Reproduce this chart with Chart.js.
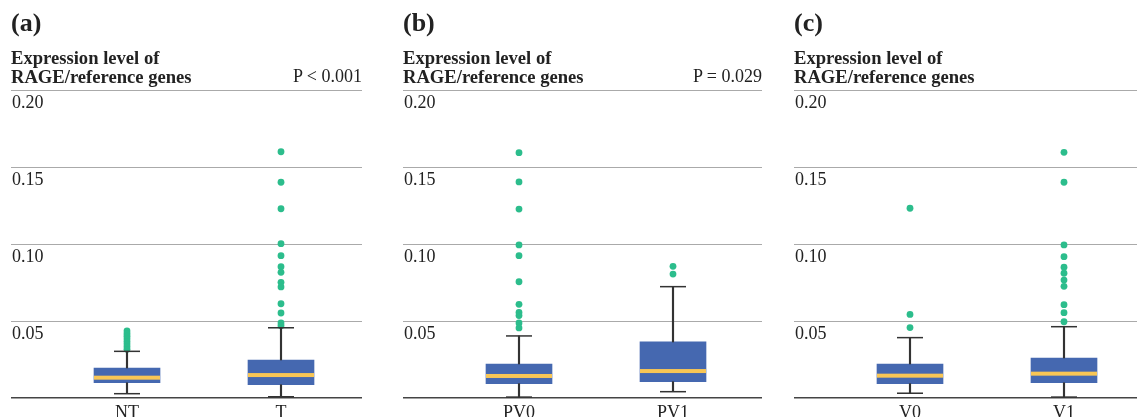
<!DOCTYPE html>
<html>
<head>
<meta charset="utf-8">
<script src="https://cdn.jsdelivr.net/npm/chart.js@4.4.0/dist/chart.umd.min.js"></script>
<style>
  body { margin: 0; width: 1137px; height: 417px; overflow: hidden; background: #fff; position: relative;
         font-family: "Liberation Serif", "Times New Roman", serif; color: #222; }
  .panel { position: absolute; top: 0; height: 417px; }
  .panel canvas { position: absolute; left: 0; top: 0; }
  .tag { position: absolute; left: 11px; top: 10px; font-size: 26px; line-height: 26px; font-weight: bold; }
  .ylab { position: absolute; left: 11px; top: 48px; font-size: 18.6px; line-height: 19px; font-weight: bold; white-space: nowrap; }
  .pval { position: absolute; right: 0; top: 67px; font-size: 18px; line-height: 19px; white-space: nowrap; }
</style>
</head>
<body>
<div class="panel" style="left:0;width:362px">
  <canvas id="chartA" width="362" height="417"></canvas>
  <div class="tag">(a)</div>
  <div class="ylab">Expression level of<br>RAGE/reference genes</div>
  <div class="pval">P &lt; 0.001</div>
</div>
<div class="panel" style="left:392px;width:370px">
  <canvas id="chartB" width="370" height="417"></canvas>
  <div class="tag">(b)</div>
  <div class="ylab">Expression level of<br>RAGE/reference genes</div>
  <div class="pval">P = 0.029</div>
</div>
<div class="panel" style="left:783px;width:354px">
  <canvas id="chartC" width="354" height="417"></canvas>
  <div class="tag">(c)</div>
  <div class="ylab">Expression level of<br>RAGE/reference genes</div>
</div>
<script>
// y axis ticks
const yTicks = [0, 0.05, 0.10, 0.15, 0.20];

// (a) NT vs T
const catsA = ["NT", "T"];
const lowA = [0.0028, 0.0008];
const q1A = [0.0099, 0.0086];
const medA = [0.0132, 0.0149];
const q3A = [0.0195, 0.0247];
const highA = [0.0303, 0.0456];
const outNT = [0.0435, 0.0418, 0.0401, 0.0384, 0.0367, 0.0350, 0.0333, 0.0316];
const outT = [0.1599, 0.1401, 0.1229, 0.1002, 0.0924, 0.0853, 0.0816, 0.0751, 0.0721, 0.0612, 0.0552, 0.0487, 0.0469];

// (b) PV0 vs PV1
const catsB = ["PV0", "PV1"];
const lowB = [0.0006, 0.0041];
const q1B = [0.0093, 0.0106];
const medB = [0.0143, 0.0175];
const q3B = [0.0221, 0.0364];
const highB = [0.0403, 0.0723];
const outPV0 = [0.1593, 0.1403, 0.1227, 0.0994, 0.0924, 0.0755, 0.0608, 0.0556, 0.0535, 0.0487, 0.0455];
const outPV1 = [0.0855, 0.0805];

// (c) V0 vs V1
const catsC = ["V0", "V1"];
const lowC = [0.0031, 0.0006];
const q1C = [0.0093, 0.0099];
const medC = [0.0145, 0.0158];
const q3C = [0.0221, 0.0260];
const highC = [0.0392, 0.0463];
const outV0 = [0.1232, 0.0543, 0.0457];
const outV1 = [0.1595, 0.1401, 0.0994, 0.0918, 0.0849, 0.0810, 0.0766, 0.0725, 0.0606, 0.0554, 0.0495];

const BLUE = "#4568b0";
const YELLOW = "#f8c655";
const GREEN = "#2cbd8c";
const DARK = "#333333";
const FONT = "'Liberation Serif', 'Times New Roman', serif";
const PX_PER_CAT = 154;   // spacing between the two boxes
const FIRST_OFFSET = 116; // from plot left edge to first box

// caps and median bars, drawn with the chart's own scales
function boxExtras(low, med, high) {
  return {
    id: "boxExtras",
    afterDatasetsDraw(chart) {
      const xs = chart.scales.x, ys = chart.scales.y, ctx = chart.ctx;
      ctx.save();
      med.forEach((m, i) => {
        const cx = xs.getPixelForValue(i + 1);
        ctx.strokeStyle = DARK;
        ctx.lineWidth = 1.5;
        [low[i], high[i]].forEach(v => {
          const y = ys.getPixelForValue(v);
          ctx.beginPath();
          ctx.moveTo(cx - 13, y);
          ctx.lineTo(cx + 13, y);
          ctx.stroke();
        });
        ctx.fillStyle = YELLOW;
        ctx.fillRect(cx - 33, ys.getPixelForValue(m) - 2, 66, 4);
      });
      ctx.restore();
    }
  };
}

function noPad(s) {
  s.paddingLeft = 0; s.paddingRight = 0; s.paddingTop = 0; s.paddingBottom = 0;
}

function makeChart(id, cats, low, q1, med, q3, high, outliers, plotWidth) {
  const pos = cats.map((c, i) => i + 1);
  const xMin = 1 - FIRST_OFFSET / PX_PER_CAT;
  const xMax = 1 + (plotWidth - FIRST_OFFSET) / PX_PER_CAT;
  const points = [];
  outliers.forEach((arr, i) => arr.forEach(v => points.push({ x: pos[i], y: v })));

  new Chart(document.getElementById(id).getContext("2d"), {
    type: "bar",
    data: {
      datasets: [
        {
          data: pos.map((p, i) => ({ x: p, y: [low[i], q1[i]] })),
          backgroundColor: DARK,
          barThickness: 1.5,
          grouped: false,
        },
        {
          data: pos.map((p, i) => ({ x: p, y: [q3[i], high[i]] })),
          backgroundColor: DARK,
          barThickness: 1.5,
          grouped: false,
        },
        {
          data: pos.map((p, i) => ({ x: p, y: [q1[i], q3[i]] })),
          backgroundColor: BLUE,
          barThickness: 66,
          grouped: false,
        },
        {
          type: "line",
          data: points,
          showLine: false,
          pointRadius: 3.4,
          pointBackgroundColor: GREEN,
          pointBorderWidth: 0,
        },
      ],
    },
    options: {
      responsive: false,
      animation: false,
      devicePixelRatio: 1,
      layout: { autoPadding: false, padding: { top: 90, left: 11, right: 0, bottom: 0 } },
      plugins: {
        legend: { display: false },
        tooltip: { enabled: false },
      },
      scales: {
        x: {
          type: "linear",
          offset: false,
          min: xMin,
          max: xMax,
          grid: { display: false },
          border: { display: false },
          afterBuildTicks: (s) => { s.ticks = pos.map(v => ({ value: v })); },
          afterFit: (s) => { s.height = 19; noPad(s); },
          ticks: {
            padding: -4,
            color: "#222",
            font: { family: FONT, size: 18 },
            callback: (v) => cats[Math.round(v) - 1] || "",
          },
        },
        y: {
          min: 0,
          max: 0.2,
          afterBuildTicks: (s) => { s.ticks = yTicks.map(v => ({ value: v })); },
          afterFit: (s) => { s.width = 0; noPad(s); },
          border: { display: false },
          grid: {
            drawTicks: false,
            color: (c) => (c.tick && c.tick.value === 0 ? "#444" : "#aaa"),
            lineWidth: (c) => (c.tick && c.tick.value === 0 ? 1.5 : 1),
          },
          ticks: {
            mirror: true,
            padding: 1,
            labelOffset: 13,
            color: "#222",
            font: { family: FONT, size: 18 },
            callback: (v) => (v === 0 ? "" : v.toFixed(2)),
          },
        },
      },
    },
    plugins: [boxExtras(low, med, high)],
  });
}

makeChart("chartA", catsA, lowA, q1A, medA, q3A, highA, [outNT, outT], 351);
makeChart("chartB", catsB, lowB, q1B, medB, q3B, highB, [outPV0, outPV1], 359);
makeChart("chartC", catsC, lowC, q1C, medC, q3C, highC, [outV0, outV1], 343);
</script>
</body>
</html>
